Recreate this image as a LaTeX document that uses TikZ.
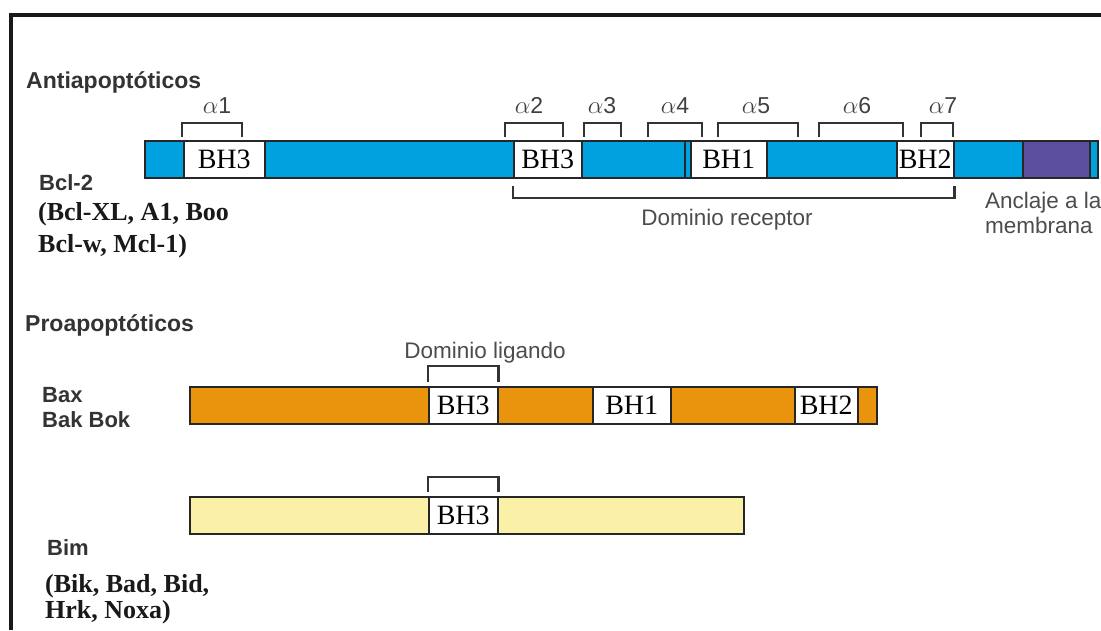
\documentclass[tikz,border=0pt]{standalone}
\usepackage{fontspec}
\setmainfont{Liberation Serif}
\setsansfont{Liberation Sans}
\usepackage{tikz}
\definecolor{bclblue}{RGB}{0,161,222}
\definecolor{membpurple}{RGB}{92,79,159}
\definecolor{baxorange}{RGB}{233,148,12}
\definecolor{bimyellow}{RGB}{250,240,168}
\tikzset{
  bar/.style={draw=black!85, line width=1.8pt},
  bh/.style={draw=black!85, line width=1.5pt, fill=white, anchor=west, inner sep=0pt,
    minimum height=37pt, font=\rmfamily\fontsize{28}{28}\selectfont},
  brk/.style={draw=black!80, line width=2.2pt},
  frameline/.style={draw=black!90, line width=4pt},
  heading/.style={anchor=base west, inner sep=0pt, text=black!80,
    font=\sffamily\bfseries\fontsize{23}{23}\selectfont},
  protname/.style={anchor=base west, inner sep=0pt, text=black!80,
    font=\sffamily\bfseries\fontsize{22}{22}\selectfont},
  family/.style={anchor=base west, inner sep=0pt, text=black!90,
    font=\rmfamily\bfseries\fontsize{26}{26}\selectfont},
  note/.style={inner sep=0pt, text=black!70, font=\sffamily\fontsize{22.5}{22.5}\selectfont},
  helix/.style={anchor=base, inner sep=0pt, text=black!75, font=\sffamily\fontsize{23}{23}\selectfont}
}

\begin{document}
\begin{tikzpicture}[x=1pt, y=-1pt]
  \useasboundingbox (0,0) rectangle (1101,630);
  \clip (0,0) rectangle (1101,630);
  \draw [frameline] (9,15) -- (1101,15);
  \draw [frameline] (11,13) -- (11,630);

  % antiapoptoticos
  \node [heading] (antiapo) at (26,88) {Antiapoptóticos};
  \node [protname] (bcl2) at (39,190) {Bcl-2};
  \node [family] (bclfam1) at (38,220) {(Bcl-XL, A1, Boo};
  \node [family] (bclfam2) at (38,252) {Bcl-w, Mcl-1)};
  \draw [bar, fill=bclblue] (145,141) rectangle (1098,178);
  \draw [bar, fill=membpurple] (1023,141) rectangle (1090,178);
  \draw [bar] (685,141) -- (685,178);
  \node [bh, minimum width=81pt] (bh3a) at (183,159.5) {BH3};
  \node [bh, minimum width=68pt] (bh3b) at (513,159.5) {BH3};
  \node [bh, minimum width=76pt] (bh1a) at (690,159.5) {BH1};
  \node [bh, minimum width=57pt] (bh2a) at (896,159.5) {BH2};
  \foreach \xa/\xb/\c/\n in {182/242/217/1, 505/563/529/2, 584/621/602/3, 648/702/675/4,
                             718/798/756/5, 819/903/857/6, 921/953/943/7}
  {
    \draw [brk] (\xa,137) |- (\xb,123) -- (\xb,137);
    \node [helix] (alpha\n) at (\c,113) {$\alpha$\n};
  }
  \draw [brk] ([yshift=-7pt]bh3b.south west) |- ([yshift=-19pt]bh2a.south east)
    -- ([yshift=-7pt]bh2a.south east);
  \node [note, anchor=base] (receptor) at (727,225) {Dominio receptor};
  \node [note, anchor=base west] (anclaje) at (985,208) {Anclaje a la};
  \node [note, anchor=base west] (membrana) at (985,233) {membrana};

  % proapoptoticos
  \node [heading] (proapo) at (25,331) {Proapoptóticos};
  \node [protname] (bax) at (42,402) {Bax};
  \node [protname] (bakbok) at (42,427) {Bak Bok};
  \node [note, anchor=base] (ligando) at (485,358) {Dominio ligando};
  \draw [bar, fill=baxorange] (190,387) rectangle (877,424);
  \node [bh, minimum width=69pt] (bh3c) at (428,405.5) {BH3};
  \node [bh, minimum width=78pt] (bh1b) at (592,405.5) {BH1};
  \node [bh, minimum width=63pt] (bh2b) at (794,405.5) {BH2};
  \draw [brk] ([yshift=4pt]bh3c.north west) |- ([yshift=20pt]bh3c.north east)
    -- ([yshift=4pt]bh3c.north east);

  \draw [bar, fill=bimyellow] (190,497) rectangle (744,534);
  \node [bh, minimum width=69pt] (bh3d) at (428,515.5) {BH3};
  \draw [brk] ([yshift=4pt]bh3d.north west) |- ([yshift=19pt]bh3d.north east)
    -- ([yshift=4pt]bh3d.north east);
  \node [protname] (bim) at (47,555) {Bim};
  \node [family] (bimfam1) at (45,592) {(Bik, Bad, Bid,};
  \node [family] (bimfam2) at (45,618) {Hrk, Noxa)};
\end{tikzpicture}
\end{document}
